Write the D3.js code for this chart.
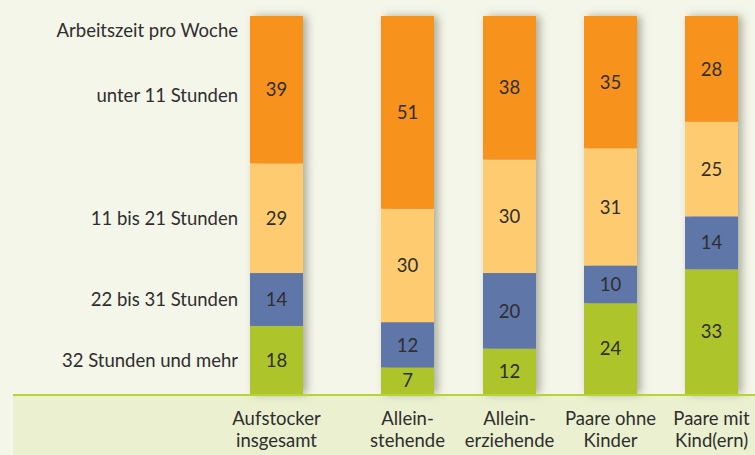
<!DOCTYPE html>
<html><head><meta charset="utf-8">
<script src="https://cdn.jsdelivr.net/npm/d3@7"></script>
<style>
html,body{margin:0;padding:0;background:#f5f6ea;}
svg{display:block;}
text{font-family:"Lato","Open Sans",sans-serif;fill:#2e2e2e;}
</style></head>
<body>
<svg id="c" width="755" height="455"></svg>
<script>
const categories = ["Aufstocker insgesamt","Allein- stehende","Allein- erziehende","Paare ohne Kinder","Paare mit Kind(ern)"];
const categoryLines = [["Aufstocker","insgesamt"],["Allein-","stehende"],["Allein-","erziehende"],["Paare ohne","Kinder"],["Paare mit","Kind(ern)"]];
const seriesNames = ["32 Stunden und mehr","22 bis 31 Stunden","11 bis 21 Stunden","unter 11 Stunden"];
const s32plus = [18, 7, 12, 24, 33];
const s22to31 = [14, 12, 20, 10, 14];
const s11to21 = [29, 30, 30, 31, 25];
const sUnder11 = [39, 51, 38, 35, 28];
const legendTitle = "Arbeitszeit pro Woche";
const colors = ["#adc42a", "#5f76a8", "#fecb6f", "#f7931f"];

const svg = d3.select("#c");
const W = 755, H = 455;
const baseY = 394, topY = 16;
const fs = 18.5;

const defs = svg.append("defs");
const f = defs.append("filter").attr("id","sh").attr("x","-30%").attr("y","-10%").attr("width","170%").attr("height","120%");
f.append("feDropShadow").attr("dx",4).attr("dy",0).attr("stdDeviation",4).attr("flood-color","#6d6f5a").attr("flood-opacity",0.55);

svg.append("rect").attr("x",13).attr("y",baseY).attr("width",W-13).attr("height",H-baseY).attr("fill","#ebf0d0");

const x = d3.scaleOrdinal().domain(categories).range([276.5, 407.5, 509.5, 610.5, 711.5]);
const bw = 53;
const y = d3.scaleLinear().domain([0,100]).range([baseY, topY]);

const table = categories.map((c,i)=>({cat:c, s0:s32plus[i], s1:s22to31[i], s2:s11to21[i], s3:sUnder11[i]}));
const stack = d3.stack().keys(["s0","s1","s2","s3"])(table);

const g = svg.append("g");
categories.forEach((c,i)=>{
  const bg = g.append("g").attr("filter","url(#sh)");
  stack.forEach((layer,k)=>{
    const d = layer[i];
    bg.append("rect").attr("x",x(c)-bw/2).attr("width",bw)
      .attr("y",y(d[1])).attr("height",y(d[0])-y(d[1])).attr("fill",colors[k]);
  });
});
stack.forEach((layer,k)=>{
  layer.forEach((d,i)=>{
    svg.append("text").attr("x",x(categories[i])).attr("y",(y(d[0])+y(d[1]))/2)
      .attr("dy","0.36em").attr("text-anchor","middle").attr("font-size",fs)
      .text(d[1]-d[0]);
  });
});

svg.append("rect").attr("x",13).attr("y",baseY).attr("width",W-13).attr("height",2).attr("fill","#b8d334");

const first = stack.map(l=>l[0]);
seriesNames.forEach((n,k)=>{
  const d = first[k];
  const yy = (y(d[0])+y(d[1]))/2 + (k===3?6:0);
  svg.append("text").attr("x",238).attr("y",yy).attr("dy","0.36em").attr("text-anchor","end")
    .attr("font-size",fs).text(n);
});
svg.append("text").attr("x",238).attr("y",30).attr("dy","0.36em").attr("text-anchor","end")
  .attr("font-size",fs).text(legendTitle);

categories.forEach((c,i)=>{
  const t = svg.append("text").attr("x",x(c)).attr("y",425).attr("text-anchor","middle").attr("font-size",fs);
  categoryLines[i].forEach((ln,j)=>{
    t.append("tspan").attr("x",x(c)).attr("dy", j===0?0:22).text(ln);
  });
});
</script>
</body></html>
